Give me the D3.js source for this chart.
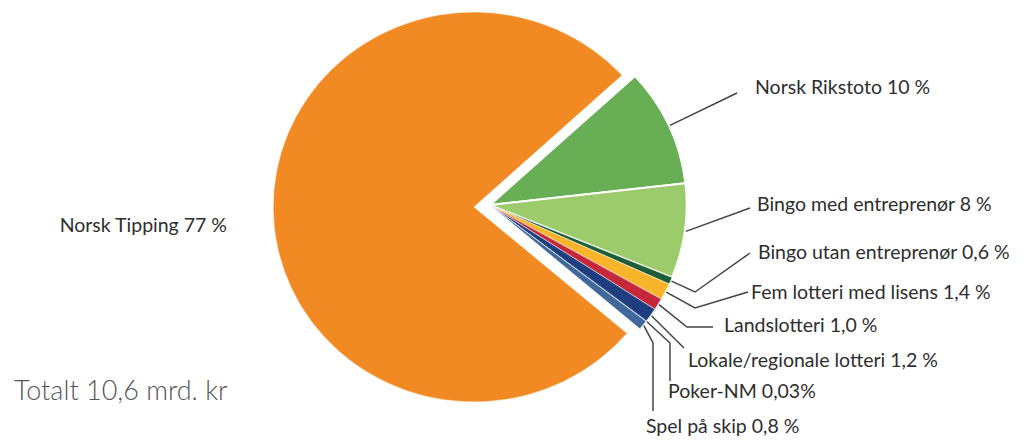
<!DOCTYPE html>
<head>
  <meta charset="utf-8">
  <script src="https://d3js.org/d3.v7.min.js"></script>
  <style>
    body { margin: 0; background: #fff; }
    svg { width: 1027px; height: 440px; display: block; }
    text { font-family: Lato, "Open Sans", sans-serif; }
  </style>
</head>

<body>
  <svg></svg>

  <script>
    // slices, clockwise from the top right
    const categories = [
      'Norsk Rikstoto',
      'Bingo med entreprenør',
      'Bingo utan entreprenør',
      'Fem lotteri med lisens',
      'Landslotteri',
      'Lokale/regionale lotteri',
      'Poker-NM',
      'Spel på skip',
      'Norsk Tipping'
    ];
    const shares = [10, 8, 0.6, 1.4, 1.0, 1.2, 0.03, 0.8, 77];
    const shareLabels = ['10 %', '8 %', '0,6 %', '1,4 %', '1,0 %', '1,2 %', '0,03%', '0,8 %', '77 %'];
    const colors = ['#67ae55', '#9bcb6a', '#1d5e38', '#f8b42a', '#c6283b', '#1d3f7f', '#41689b', '#41689b', '#f28a24'];
    const totalLabel = 'Totalt 10,6 mrd. kr';

    // label placement (text anchor + leader bends), page coords
    const labelLayout = [
      { x: 755, y: 94,  pts: [[737, 93]] },
      { x: 757, y: 211, pts: [[750, 208]] },
      { x: 758, y: 259, pts: [[695, 292], [750, 253]] },
      { x: 751, y: 299, pts: [[695, 308], [748, 292]] },
      { x: 724, y: 332, pts: [[687, 327], [713, 327]] },
      { x: 688, y: 367, pts: [[684, 348]] },
      { x: 668, y: 398, pts: [[670, 343], [670, 381]] },
      { x: 646, y: 433, pts: [[653, 343], [653, 411]] },
      { x: 227, y: 232, pts: [] }
    ];

    const svg = d3.select('svg');

    const data = categories.map((c, i) => ({
      name: c,
      value: shares[i],
      label: shareLabels[i],
      color: colors[i],
      layout: labelLayout[i]
    }));

    const start = 47.5 * Math.PI / 180;
    const pie = d3.pie()
      .sort(null)
      .value(d => d.value)
      .startAngle(start)
      .endAngle(start + 2 * Math.PI);
    const arcs = pie(data);

    const sx = 1.03; // the picture is a little wider than tall
    const big = { cx: 474, cy: 207, r: 195 };   // Norsk Tipping
    const small = { cx: 490, cy: 205, r: 191 }; // pulled-out group

    const geo = d => d.index === data.length - 1 ? big : small;

    svg.selectAll('path.slice')
      .data(arcs).enter().append('path')
      .attr('class', 'slice')
      .attr('transform', d => `translate(${geo(d).cx},${geo(d).cy})scale(${sx},1)`)
      .attr('d', d => d3.arc().innerRadius(0).outerRadius(geo(d).r)(d))
      .attr('fill', d => d.data.color)
      .attr('stroke', '#fff')
      .attr('stroke-width', d => d.index < 2 ? 2 : 0.5)
      .attr('stroke-linejoin', 'round');

    // leader lines start on the outer edge at the slice middle
    const leaders = arcs.filter(d => d.data.layout.pts.length);
    svg.selectAll('path.leader')
      .data(leaders).enter().append('path')
      .attr('class', 'leader')
      .attr('d', d => {
        const g = geo(d);
        const c = d3.arc().innerRadius(g.r + 1).outerRadius(g.r + 1).centroid(d);
        const p0 = [g.cx + c[0] * sx, g.cy + c[1]];
        return d3.line()([p0].concat(d.data.layout.pts));
      })
      .attr('fill', 'none')
      .attr('stroke', '#444')
      .attr('stroke-width', 1.5);

    svg.selectAll('text.lbl')
      .data(arcs).enter().append('text')
      .attr('class', 'lbl')
      .attr('x', d => d.data.layout.x)
      .attr('y', d => d.data.layout.y)
      .attr('text-anchor', d => d.index === data.length - 1 ? 'end' : 'start')
      .attr('font-size', 19.5)
      .attr('fill', '#2e2e2e')
      .text(d => `${d.data.name} ${d.data.label}`);

    svg.append('text')
      .attr('x', 14)
      .attr('y', 400)
      .attr('font-size', 27)
      .attr('font-weight', 300)
      .attr('fill', '#555')
      .text(totalLabel);
  </script>
</body>
